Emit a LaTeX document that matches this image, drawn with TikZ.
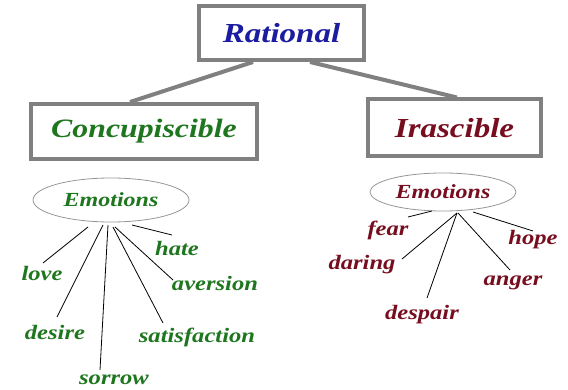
\documentclass[tikz,border=0pt]{standalone}
\usepackage{fontspec}
\newfontfamily\labfont[FakeStretch=1.2]{Liberation Serif}
\usetikzlibrary{shapes.geometric,calc}
\definecolor{ratblue}{RGB}{28,28,160}
\definecolor{congreen}{RGB}{30,118,30}
\definecolor{irared}{RGB}{118,14,32}
\definecolor{boxgray}{RGB}{128,128,128}
\definecolor{ellgray}{RGB}{150,150,150}
\begin{document}
\begin{tikzpicture}[x=1pt,y=-1pt,
  bigbox/.style={draw=boxgray,line width=4pt,fill=white,inner sep=0pt},
  link/.style={draw=boxgray,line width=4pt},
  emo/.style={draw=ellgray,ellipse,line width=0.8pt,inner sep=0pt,font=\labfont\bfseries\itshape\fontsize{20}{23}\selectfont},
  lab/.style={inner sep=0pt,font=\labfont\bfseries\itshape\fontsize{20.5}{24}\selectfont},
  twig/.style={draw=black,line width=0.8pt}]
\useasboundingbox (0,0) rectangle (568,390);
% boxes
\node[bigbox,minimum width=165pt,minimum height=54pt,text=ratblue,font=\labfont\bfseries\itshape\fontsize{27.5}{31}\selectfont] (R) at (281.5,33) {Rational};
\node[bigbox,minimum width=226pt,minimum height=55pt,text=congreen,font=\labfont\bfseries\itshape\fontsize{26.5}{30}\selectfont] (C) at (144,131.5) {Concupiscible};
\node[bigbox,minimum width=173pt,minimum height=57pt,text=irared,font=\labfont\bfseries\itshape\fontsize{27.5}{31}\selectfont] (I) at (454.5,128) {Irascible};
\draw[link] ([xshift=-28.5pt]R.south) -- ([xshift=-14pt]C.north);
\draw[link] ([xshift=28.5pt]R.south) -- ([xshift=2.5pt]I.north);
% ellipses
\node[emo,minimum width=156pt,minimum height=44pt,text=congreen] (EL) at (111,200) {Emotions};
\node[emo,minimum width=146pt,minimum height=38pt,text=irared] (ER) at (443,192) {Emotions};
% left labels
\begin{scope}[every node/.style={lab,text=congreen}]
\node (hate) at (177,248) {hate};
\node (love) at (42,273) {love};
\node (aversion) at (215,283) {aversion};
\node (desire) at (55,332) {desire};
\node (satisfaction) at (197,337) {satisfaction};
\node (sorrow) at (114,380) {sorrow};
\end{scope}
\draw[twig] ($(EL.center)+(-23,27)$) -- ($(love.center)+(1,-10)$);
\draw[twig] ($(EL.center)+(-8,25)$) -- ($(desire.center)+(2,-15)$);
\draw[twig] ($(EL.center)+(-3,25)$) -- ($(sorrow.center)+(-14,-10)$);
\draw[twig] ($(EL.center)+(2,27)$) -- ($(satisfaction.center)+(-34,-14)$);
\draw[twig] ($(EL.center)+(4,27)$) -- ($(aversion.center)+(-42,-3)$);
\draw[twig] ($(EL.center)+(21,25)$) -- ($(hate.center)+(-5,-13)$);
% right labels
\begin{scope}[every node/.style={lab,text=irared}]
\node (fear) at (388,230) {fear};
\node (daring) at (362,265) {daring};
\node (despair) at (422,315) {despair};
\node (anger) at (513,283) {anger};
\node (hope) at (533,240) {hope};
\end{scope}
\draw[twig] ($(ER.center)+(-11,19)$) -- ($(fear.center)+(20,-13)$);
\draw[twig] ($(ER.center)+(14,21)$) -- ($(daring.center)+(40,-6)$);
\draw[twig] ($(ER.center)+(14,21)$) -- ($(despair.center)+(5,-17)$);
\draw[twig] ($(ER.center)+(15,21)$) -- ($(anger.center)+(-3,-13)$);
\draw[twig] ($(ER.center)+(30,20)$) -- ($(hope.center)+(0,-9)$);
\end{tikzpicture}
\end{document}
